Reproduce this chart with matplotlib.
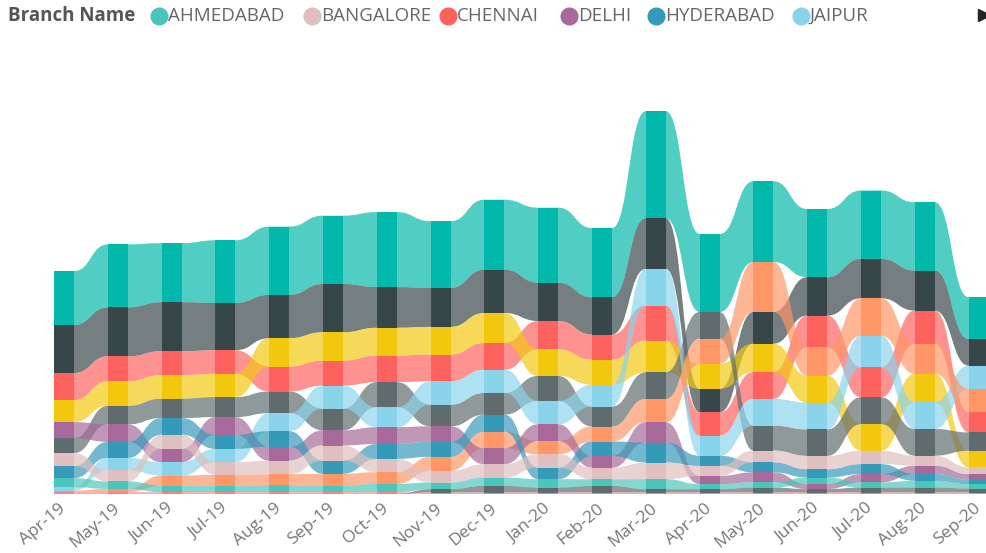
import numpy as np
import matplotlib.pyplot as plt
from matplotlib.path import Path
from matplotlib.patches import PathPatch
from matplotlib.lines import Line2D

# ==========================
# data
# ==========================
months = ["Apr-19", "May-19", "Jun-19", "Jul-19", "Aug-19", "Sep-19",
          "Oct-19", "Nov-19", "Dec-19", "Jan-20", "Feb-20", "Mar-20",
          "Apr-20", "May-20", "Jun-20", "Jul-20", "Aug-20", "Sep-20"]

mumbai    = [54, 63, 59, 62.7, 68.3, 68.3, 75, 66.7, 70, 75, 69.3, 107, 78, 80.7, 68.3, 68.3, 68.3, 41.7]
pune      = [48, 49, 49, 47.3, 43.3, 48.3, 40.7, 39, 43.3, 38.3, 37.3, 50.7, 23.5, 31.7, 38.3, 39.5, 40, 26.7]
chennai   = [27, 25, 24, 23.5, 25, 25, 26.7, 26.7, 26.7, 28.3, 25.2, 35, 23.3, 26.9, 31.7, 30, 33.3, 20]
kolkata   = [22, 24.5, 23.5, 23.3, 28.3, 28.3, 27.7, 27.7, 30, 26.7, 25, 31.7, 25, 28.3, 27, 26.7, 28.3, 16.7]
lucknow   = [15, 18.5, 19.3, 20, 21.7, 21.7, 25, 21.7, 21.7, 25, 20, 26.7, 26.7, 25, 26.5, 26.8, 26.7, 18.3]
jaipur    = [3.5, 12.5, 13.2, 13.3, 18, 23, 20, 23.3, 23.3, 23.3, 21.7, 36.7, 20, 26.7, 26.8, 31.5, 26.8, 23.4]
nagpur    = [1.6, 3.3, 10, 10.7, 11, 11.7, 11.7, 14, 16.5, 13.3, 15, 23.3, 25.2, 50, 28.3, 37.5, 30, 23.3]
delhi     = [16, 17.5, 13.6, 17.7, 14, 15.2, 16.7, 15.5, 16, 16.7, 11.7, 20.2, 8.3, 10, 5, 8.3, 8.3, 5.7]
hyderabad = [12, 16, 16.7, 14, 15.5, 13.3, 15, 15, 17, 11.7, 14.5, 20, 10.2, 10.1, 8.3, 10, 6.8, 4.4]
bangalore = [13, 11, 14, 12.7, 13.5, 15, 13.3, 11.7, 13.3, 13.2, 11.6, 16.7, 10, 11.7, 13.3, 13.3, 10, 6.7]
ahmedabad = [9, 7.5, 6.7, 6.7, 7, 6.7, 8.3, 6.7, 8.3, 8.3, 6.7, 10, 5, 5.1, 6.7, 5.1, 6.7, 4.3]
surat     = [0.3, 0.3, 0.3, 0.3, 0.3, 0.3, 0.3, 3.3, 6.7, 5, 6.5, 3.3, 3.3, 5, 3.3, 5, 5, 4]
vadodara  = [1.5, 1.5, 1.5, 1.5, 1.5, 1.5, 1.5, 1.5, 1.5, 1.5, 1.5, 1.5, 1.5, 1.5, 1.5, 1.5, 1.5, 1.5]

branches = ["MUMBAI", "PUNE", "CHENNAI", "KOLKATA", "LUCKNOW", "JAIPUR", "NAGPUR",
            "DELHI", "HYDERABAD", "BANGALORE", "AHMEDABAD", "SURAT", "VADODARA"]
values = [mumbai, pune, chennai, kolkata, lucknow, jaipur, nagpur,
          delhi, hyderabad, bangalore, ahmedabad, surat, vadodara]
colors = ["#01B8AA", "#374649", "#FD625E", "#F2C80F", "#5F6B6D", "#8AD4EB", "#FE9666",
          "#A66999", "#3599B8", "#DFBFBF", "#4AC5BB", "#5F6B6D", "#FB8281"]

legend_names = ["AHMEDABAD", "BANGALORE", "CHENNAI", "DELHI", "HYDERABAD", "JAIPUR"]

# ==========================
# stacking by rank (largest on top)
# ==========================
vals = np.array(values, dtype=float)
n_s, n_m = vals.shape
bottoms = np.zeros_like(vals)
for m in range(n_m):
    order = np.argsort(vals[:, m])  # smallest first -> bottom
    acc = 0.0
    for s in order:
        bottoms[s, m] = acc
        acc += vals[s, m]
tops = bottoms + vals

# ==========================
# figure
# ==========================
plt.rcParams['font.family'] = ['Open Sans', 'DejaVu Sans']
fig = plt.figure(figsize=(9.87, 5.53), dpi=100)
W, H = 987, 553
ax = fig.add_axes([0, (H - 494) / H, 1, 394 / H])
step = 53.8
ax.set_xlim(-64 / step, (W - 64) / step)
ax.set_ylim(0, 394)

hw = 10 / step  # half bar width
x = np.arange(n_m)


def ribbon_path(top, bot):
    verts, codes = [], []
    verts.append((x[0] - hw, top[0])); codes.append(Path.MOVETO)
    for k in range(n_m):
        verts.append((x[k] + hw, top[k])); codes.append(Path.LINETO)
        if k < n_m - 1:
            xm = x[k] + 0.5
            verts += [(xm, top[k]), (xm, top[k + 1]), (x[k + 1] - hw, top[k + 1])]
            codes += [Path.CURVE4] * 3
    verts.append((x[-1] + hw, bot[-1])); codes.append(Path.LINETO)
    for k in range(n_m - 1, -1, -1):
        verts.append((x[k] - hw, bot[k])); codes.append(Path.LINETO)
        if k > 0:
            xm = x[k] - 0.5
            verts += [(xm, bot[k]), (xm, bot[k - 1]), (x[k - 1] + hw, bot[k - 1])]
            codes += [Path.CURVE4] * 3
    verts.append((x[0] - hw, top[0])); codes.append(Path.CLOSEPOLY)
    return Path(verts, codes)


for s in range(n_s):
    ax.add_patch(PathPatch(ribbon_path(tops[s], bottoms[s]), facecolor=colors[s],
                           edgecolor="none", alpha=0.69, zorder=1))

for s in range(n_s):
    ax.bar(x, vals[s], bottom=bottoms[s], width=2 * hw, color=colors[s],
           edgecolor="none", zorder=2)

for sp in ax.spines.values():
    sp.set_visible(False)
ax.set_yticks([])
ax.set_xticks(x)
ax.set_xticklabels(months, rotation=40, ha="right", va="center",
                   rotation_mode="anchor", color="#777777", fontsize=12.5)
ax.tick_params(axis="x", length=0, pad=9)

# legend
fig.text(8 / W, 1 - 16 / H, "Branch Name", fontsize=13.5, fontweight="bold",
         color="#555555", va="center", ha="left")
circle_x = [159, 312, 448, 569, 656, 801]
text_x = [168, 321, 457, 578, 665, 810]
for name, cx, tx in zip(legend_names, circle_x, text_x):
    c = colors[branches.index(name)]
    fig.add_artist(Line2D([cx / W], [1 - 16 / H], marker="o", markersize=12,
                          color=c, linestyle="none", transform=fig.transFigure))
    fig.text(tx / W, 1 - 16 / H, name, fontsize=13.5, color="#666666",
             va="center", ha="left")
fig.add_artist(Line2D([984 / W], [1 - 15 / H], marker=">", markersize=9,
                      color="#252423", linestyle="none", transform=fig.transFigure))

fig.savefig("out.png", dpi=100)
